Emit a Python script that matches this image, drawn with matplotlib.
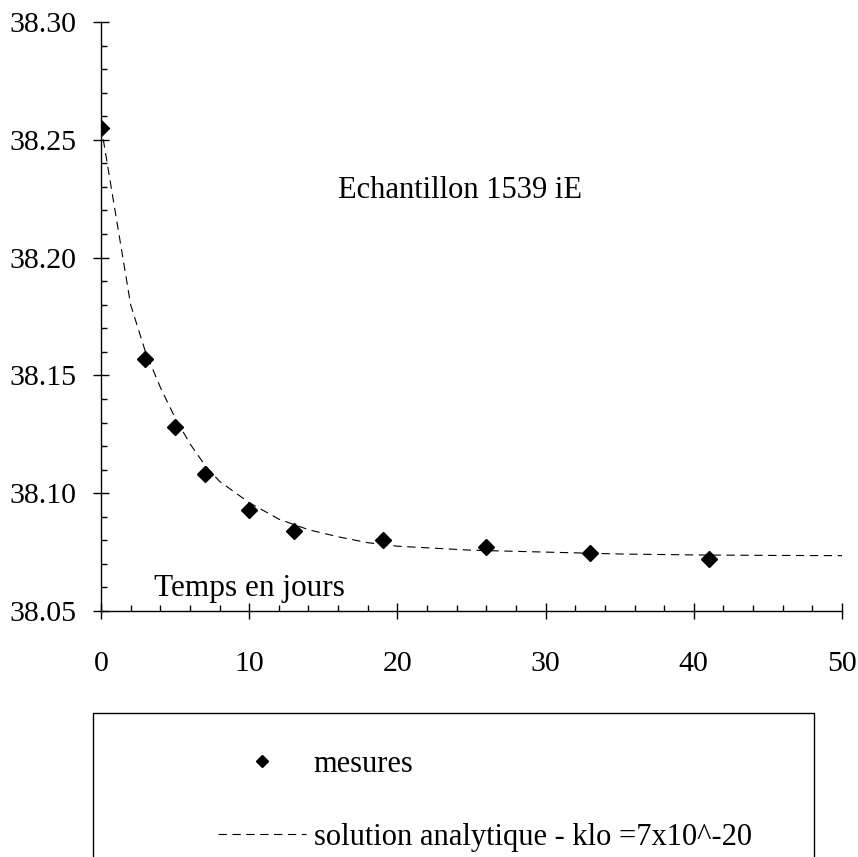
import matplotlib
matplotlib.use("Agg")
import matplotlib.pyplot as plt
from matplotlib.patches import Rectangle
from matplotlib.ticker import MultipleLocator

plt.rcParams['font.family'] = ['Liberation Serif', 'DejaVu Serif']

# measured values (days, value)
jours = [0, 3, 5, 7, 10, 13, 19, 26, 33, 41]
mesures = [38.255, 38.157, 38.128, 38.108, 38.093, 38.084, 38.080, 38.077, 38.0745, 38.072]

# analytical solution
t_sol = [0, 0.5, 1, 1.5, 2, 3, 4, 5, 6, 7, 8, 10, 12, 14, 16, 18, 20, 25, 30, 35, 40, 45, 50]
v_sol = [38.256, 38.237, 38.218, 38.199, 38.180, 38.160, 38.145, 38.132, 38.121, 38.112,
         38.105, 38.096, 38.089, 38.0845, 38.0815, 38.079, 38.0775, 38.0758, 38.075,
         38.0742, 38.0738, 38.0736, 38.0735]

W, H = 858, 857
fig = plt.figure(figsize=(W / 100, H / 100), dpi=100)
ax = fig.add_axes([101 / W, 1 - 611 / H, 741 / W, 589 / H])

ax.plot(t_sol, v_sol, color='black', lw=0.8, linestyle=(0, (7.5, 5)),
        label='solution analytique - klo =7x10^-20')
ax.plot(jours, mesures, linestyle='none', marker='D', markersize=8.5,
        color='black', label='mesures')

ax.set_xlim(0, 50)
ax.set_ylim(38.05, 38.30)
ax.xaxis.set_major_locator(MultipleLocator(10))
ax.xaxis.set_minor_locator(MultipleLocator(2))
ax.yaxis.set_major_locator(MultipleLocator(0.05))
ax.yaxis.set_minor_locator(MultipleLocator(0.01))
ax.yaxis.set_major_formatter(lambda v, p: f'{v:.2f}')

for s in ['top', 'right']:
    ax.spines[s].set_visible(False)
for s in ['left', 'bottom']:
    ax.spines[s].set_linewidth(1.0)

ax.tick_params(axis='y', which='major', direction='inout', length=11, width=1.0,
               labelsize=21.5, pad=12)
ax.tick_params(axis='x', which='major', direction='inout', length=11, width=1.0,
               labelsize=21.5, pad=23)
ax.tick_params(which='minor', direction='in', length=4.5, width=1.0)

ax.text(3.6, 38.0564, 'Temps en jours', fontsize=22.5, ha='left', va='baseline')
ax.text(24.2, 38.2255, 'Echantillon 1539 iE', fontsize=22, ha='center', va='baseline')

# legend box runs off the bottom of the figure
fig.patches.append(Rectangle((93 / W, -0.05), (814 - 93) / W, 0.05 + 1 - 713 / H,
                             transform=fig.transFigure, fill=False,
                             edgecolor='black', lw=1.0))
h, l = ax.get_legend_handles_labels()
fig.legend(h[::-1], l[::-1], loc='upper left', bbox_to_anchor=(190 / W, 1 - 722 / H),
           frameon=False, fontsize=22, handlelength=2.9, handletextpad=0.25,
           labelspacing=1.45, markerscale=0.75)

fig.savefig('out.png', dpi=100)
